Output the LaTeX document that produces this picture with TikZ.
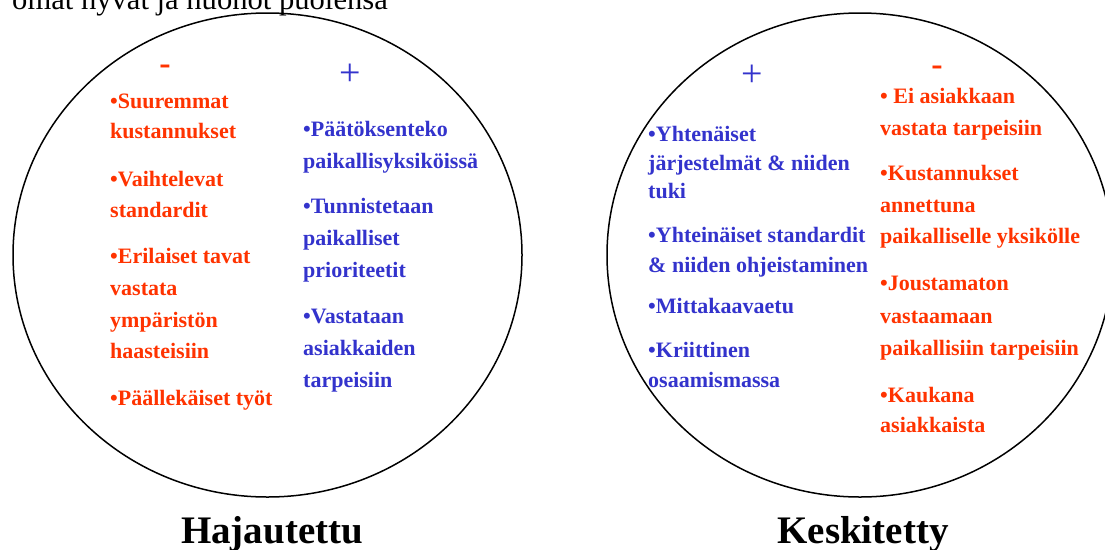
\documentclass[tikz,border=0pt]{standalone}
\usepackage{fontspec}
\setmainfont{Liberation Serif}
\definecolor{neg}{HTML}{FF3300}
\definecolor{pos}{HTML}{3333CC}
\tikzset{
  ring/.style={draw=black, line width=1.5pt},
  body/.style={font=\fontsize{22}{26}\selectfont\bfseries, anchor=base west, inner sep=0pt},
  negtext/.style={body, text=neg},
  postext/.style={body, text=pos},
  plussign/.style={font=\fontsize{38}{38}\selectfont, text=pos, inner sep=0pt},
  minussign/.style={font=\fontsize{34}{34}\selectfont\bfseries, text=neg, inner sep=0pt},
  titletext/.style={font=\fontsize{39}{39}\selectfont\bfseries, anchor=base, inner sep=0pt},
  toptext/.style={font=\fontsize{30.6}{31}\selectfont, anchor=base west, inner sep=0pt}
}
\newcommand\txtline[4]{\node[#1] (#2) at (#3) {#4};}
\begin{document}
\begin{tikzpicture}[x=1pt, y=-1pt]
\useasboundingbox (0,0) rectangle (1105,549);
% partial heading at top
\node[toptext] (head) at (12,9) {omat hyvät ja huonot puolensa};
% circles
\draw[ring] (267.5,255) ellipse [x radius=254.5, y radius=242];
\draw[ring] (860,255) ellipse [x radius=253, y radius=242];
% signs
\node[minussign] (lminus) at (165,70) {-};
\node[plussign] (lplus) at (350,75) {+};
\node[plussign] (rplus) at (752,76) {+};
\node[minussign] (rminus) at (937,71) {-};
% left circle, red column
\txtline{negtext}{l1}{110,108}{•Suuremmat}
\txtline{negtext}{l2}{110,138}{kustannukset}
\txtline{negtext}{l3}{110,186}{•Vaihtelevat}
\txtline{negtext}{l4}{110,217}{standardit}
\txtline{negtext}{l5}{110,263}{•Erilaiset tavat}
\txtline{negtext}{l6}{110,295}{vastata}
\txtline{negtext}{l7}{110,327}{ympäristön}
\txtline{negtext}{l8}{110,358}{haasteisiin}
\txtline{negtext}{l9}{110,405}{•Päällekäiset työt}
% left circle, blue column
\txtline{postext}{m1}{303,136}{•Päätöksenteko}
\txtline{postext}{m2}{303,168}{paikallisyksiköissä}
\txtline{postext}{m3}{303,213}{•Tunnistetaan}
\txtline{postext}{m4}{303,245}{paikalliset}
\txtline{postext}{m5}{303,277}{prioriteetit}
\txtline{postext}{m6}{303,323}{•Vastataan}
\txtline{postext}{m7}{303,355}{asiakkaiden}
\txtline{postext}{m8}{303,387}{tarpeisiin}
% right circle, blue column
\txtline{postext}{p1}{648,141}{•Yhtenäiset}
\txtline{postext}{p2}{648,170}{järjestelmät \& niiden}
\txtline{postext}{p3}{648,198}{tuki}
\txtline{postext}{p4}{648,242}{•Yhteinäiset standardit}
\txtline{postext}{p5}{648,272}{\& niiden ohjeistaminen}
\txtline{postext}{p6}{648,313}{•Mittakaavaetu}
\txtline{postext}{p7}{648,357}{•Kriittinen}
\txtline{postext}{p8}{648,387}{osaamismassa}
% right circle, red column
\txtline{negtext}{r1}{880,103}{• Ei asiakkaan}
\txtline{negtext}{r2}{880,135}{vastata tarpeisiin}
\txtline{negtext}{r3}{880,180}{•Kustannukset}
\txtline{negtext}{r4}{880,212}{annettuna}
\txtline{negtext}{r5}{880,243}{paikalliselle yksikölle}
\txtline{negtext}{r6}{880,290}{•Joustamaton}
\txtline{negtext}{r7}{880,323}{vastaamaan}
\txtline{negtext}{r8}{880,355}{paikallisiin tarpeisiin}
\txtline{negtext}{r9}{880,402}{•Kaukana}
\txtline{negtext}{r10}{880,432}{asiakkaista}
% titles
\node[titletext] (tleft) at (272,543) {Hajautettu};
\node[titletext] (tright) at (863,543) {Keskitetty};
\end{tikzpicture}
\end{document}
